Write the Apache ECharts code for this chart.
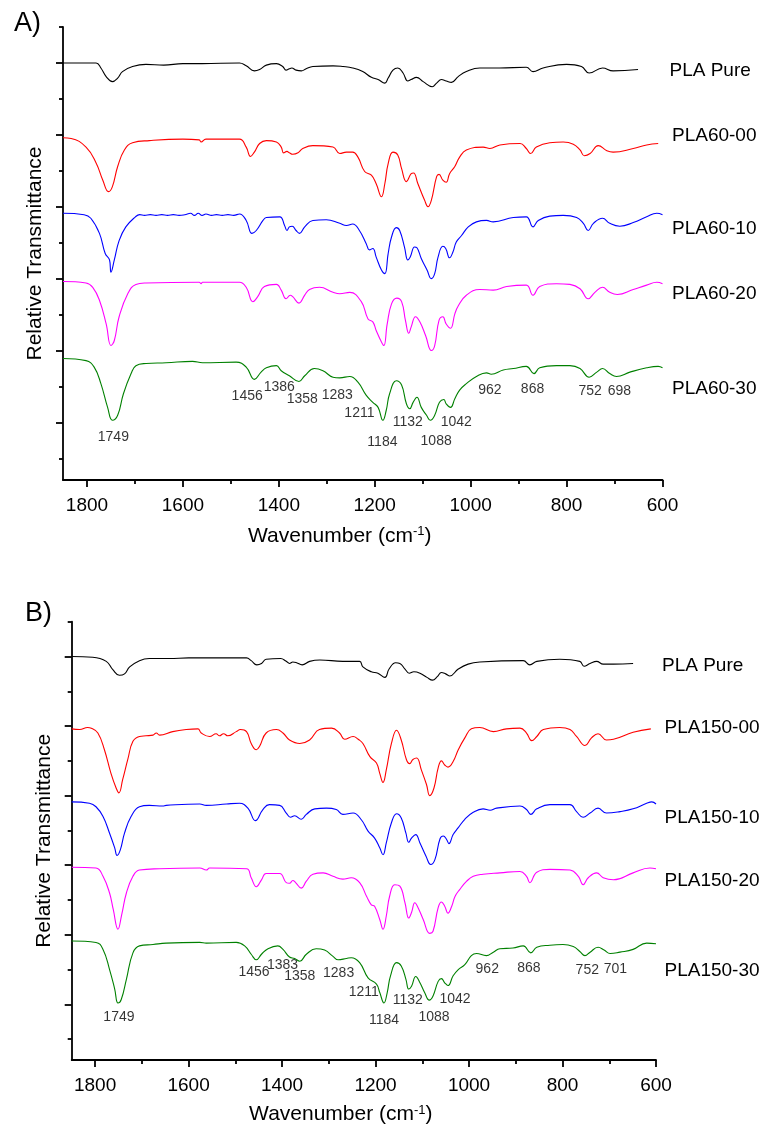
<!DOCTYPE html>
<html>
<head>
<meta charset="utf-8">
<script src="https://cdn.jsdelivr.net/npm/echarts@6/dist/echarts.min.js"></script>
<style>
  html, body { margin: 0; padding: 0; background: #fff; }
  #main { width: 762px; height: 1124px; }
</style>
</head>
<body>
<div id="main"></div>
<script>
// spectra as [wavenumber (cm-1), relative transmittance, offset per trace]
// panel A
var pureA = [[1850,5.00],[1781,5.00],[1771,4.93],[1760,4.81],[1747,4.74],[1736,4.79],[1726,4.88],[1705,4.95],[1677,4.98],[1640,4.97],[1600,4.99],[1560,4.99],[1482,5.00],[1468,4.96],[1451,4.89],[1440,4.91],[1426,4.97],[1405,4.99],[1392,4.95],[1385,4.90],[1378,4.92],[1373,4.93],[1364,4.90],[1353,4.89],[1343,4.92],[1329,4.95],[1287,4.96],[1266,4.95],[1246,4.93],[1225,4.88],[1207,4.80],[1193,4.77],[1179,4.72],[1172,4.79],[1162,4.90],[1152,4.93],[1141,4.86],[1131,4.75],[1124,4.77],[1113,4.80],[1099,4.74],[1080,4.67],[1071,4.72],[1061,4.77],[1051,4.75],[1040,4.73],[1026,4.81],[1009,4.88],[981,4.93],[940,4.93],[884,4.94],[870,4.88],[849,4.93],[800,4.98],[769,4.95],[753,4.86],[725,4.93],[703,4.89],[651,4.91]];
var pla60_00 = [[1850,3.96],[1833,3.95],[1802,3.83],[1781,3.61],[1767,3.37],[1755,3.21],[1747,3.28],[1736,3.56],[1722,3.79],[1705,3.89],[1670,3.92],[1600,3.94],[1566,3.93],[1562,3.90],[1552,3.94],[1482,3.94],[1468,3.83],[1459,3.70],[1451,3.76],[1440,3.88],[1426,3.92],[1405,3.90],[1395,3.83],[1390,3.75],[1383,3.77],[1378,3.75],[1371,3.73],[1360,3.75],[1350,3.81],[1329,3.85],[1287,3.83],[1273,3.74],[1259,3.76],[1246,3.76],[1235,3.69],[1221,3.49],[1207,3.44],[1197,3.32],[1186,3.14],[1179,3.32],[1172,3.60],[1162,3.76],[1152,3.72],[1144,3.53],[1134,3.35],[1124,3.46],[1119,3.47],[1110,3.32],[1096,3.09],[1089,3.00],[1082,3.09],[1071,3.42],[1066,3.45],[1058,3.37],[1051,3.34],[1044,3.46],[1033,3.56],[1023,3.69],[1009,3.79],[974,3.83],[960,3.81],[939,3.86],[897,3.88],[884,3.81],[875,3.74],[863,3.83],[835,3.89],[807,3.90],[786,3.87],[772,3.79],[763,3.71],[751,3.74],[734,3.85],[716,3.78],[703,3.76],[661,3.81],[633,3.86],[609,3.88]];
var pla60_10 = [[1850,2.91],[1806,2.89],[1792,2.84],[1774,2.63],[1762,2.35],[1753,2.26],[1750,2.09],[1743,2.26],[1733,2.53],[1719,2.72],[1699,2.86],[1690,2.89],[1680,2.88],[1668,2.89],[1656,2.88],[1644,2.89],[1632,2.88],[1620,2.89],[1608,2.88],[1596,2.89],[1584,2.91],[1576,2.88],[1568,2.91],[1560,2.88],[1552,2.90],[1540,2.88],[1530,2.89],[1518,2.88],[1506,2.89],[1494,2.88],[1482,2.90],[1468,2.81],[1456,2.63],[1447,2.67],[1433,2.81],[1426,2.85],[1398,2.86],[1388,2.74],[1383,2.67],[1378,2.72],[1372,2.73],[1364,2.67],[1357,2.63],[1346,2.72],[1329,2.81],[1301,2.82],[1273,2.77],[1259,2.74],[1246,2.76],[1232,2.67],[1218,2.49],[1211,2.40],[1204,2.42],[1197,2.30],[1186,2.12],[1179,2.07],[1172,2.35],[1165,2.58],[1155,2.71],[1148,2.67],[1138,2.44],[1131,2.26],[1126,2.30],[1117,2.44],[1112,2.43],[1103,2.28],[1091,2.12],[1082,2.00],[1075,2.07],[1068,2.30],[1058,2.45],[1052,2.42],[1044,2.29],[1037,2.37],[1030,2.51],[1019,2.60],[1005,2.72],[988,2.79],[967,2.81],[953,2.79],[911,2.85],[884,2.86],[870,2.72],[859,2.81],[835,2.87],[807,2.88],[779,2.85],[765,2.77],[755,2.67],[744,2.77],[725,2.84],[710,2.77],[689,2.73],[661,2.78],[633,2.86],[612,2.91],[600,2.89]];
var pla60_20 = [[1850,1.96],[1802,1.94],[1788,1.88],[1774,1.70],[1760,1.37],[1750,1.07],[1743,1.14],[1733,1.47],[1715,1.79],[1698,1.92],[1677,1.94],[1566,1.95],[1562,1.93],[1559,1.95],[1482,1.95],[1468,1.88],[1454,1.68],[1444,1.75],[1430,1.89],[1405,1.92],[1395,1.84],[1385,1.72],[1376,1.77],[1371,1.75],[1358,1.66],[1346,1.77],[1336,1.85],[1315,1.88],[1287,1.81],[1273,1.79],[1252,1.81],[1228,1.68],[1214,1.44],[1204,1.40],[1197,1.28],[1186,1.12],[1181,1.07],[1174,1.37],[1165,1.65],[1154,1.73],[1144,1.68],[1136,1.42],[1129,1.24],[1124,1.33],[1115,1.47],[1106,1.40],[1094,1.21],[1082,1.00],[1075,1.07],[1066,1.42],[1058,1.47],[1051,1.37],[1042,1.31],[1033,1.51],[1026,1.62],[1009,1.77],[981,1.85],[953,1.84],[925,1.89],[884,1.91],[870,1.77],[856,1.89],[821,1.93],[793,1.92],[772,1.86],[755,1.72],[741,1.81],[725,1.88],[710,1.81],[694,1.78],[661,1.85],[633,1.91],[612,1.95],[600,1.93]];
var pla60_30 = [[1850,0.89],[1802,0.86],[1785,0.77],[1771,0.54],[1757,0.21],[1747,0.03],[1736,0.10],[1724,0.40],[1708,0.68],[1698,0.79],[1677,0.82],[1635,0.83],[1580,0.85],[1559,0.83],[1489,0.84],[1468,0.77],[1451,0.60],[1437,0.70],[1426,0.76],[1405,0.79],[1395,0.72],[1378,0.65],[1358,0.57],[1346,0.65],[1326,0.75],[1308,0.72],[1287,0.63],[1273,0.62],[1252,0.64],[1235,0.56],[1218,0.38],[1204,0.28],[1193,0.21],[1183,0.03],[1176,0.17],[1169,0.40],[1155,0.58],[1144,0.52],[1134,0.26],[1127,0.19],[1120,0.28],[1112,0.35],[1103,0.21],[1092,0.10],[1084,0.03],[1075,0.10],[1065,0.28],[1056,0.32],[1051,0.26],[1042,0.21],[1033,0.33],[1023,0.45],[1009,0.54],[988,0.64],[967,0.69],[957,0.67],[932,0.73],[911,0.75],[884,0.78],[868,0.68],[856,0.76],[821,0.79],[793,0.79],[772,0.75],[753,0.63],[737,0.70],[725,0.75],[710,0.68],[696,0.64],[668,0.70],[633,0.76],[609,0.78],[600,0.76]];

// panel B
var pureB = [[1850,5.00],[1805,4.99],[1776,4.93],[1762,4.81],[1748,4.73],[1737,4.75],[1726,4.85],[1705,4.94],[1684,4.97],[1641,4.97],[1600,4.98],[1560,4.98],[1476,4.98],[1466,4.94],[1454,4.88],[1444,4.90],[1434,4.96],[1403,4.97],[1391,4.93],[1384,4.90],[1377,4.92],[1369,4.91],[1357,4.88],[1341,4.93],[1319,4.95],[1270,4.93],[1234,4.93],[1227,4.85],[1209,4.78],[1195,4.76],[1180,4.70],[1171,4.82],[1157,4.91],[1148,4.90],[1137,4.82],[1128,4.76],[1118,4.78],[1105,4.76],[1090,4.70],[1078,4.66],[1068,4.71],[1059,4.77],[1050,4.75],[1041,4.72],[1023,4.82],[1002,4.89],[977,4.92],[884,4.94],[870,4.88],[855,4.93],[806,4.96],[763,4.93],[754,4.86],[741,4.90],[727,4.93],[713,4.89],[691,4.89],[649,4.90]];
var pla150_00 = [[1850,3.96],[1833,3.95],[1816,3.98],[1808,3.97],[1794,3.90],[1780,3.66],[1766,3.32],[1755,3.11],[1749,3.04],[1741,3.23],[1730,3.52],[1719,3.78],[1705,3.85],[1691,3.86],[1676,3.87],[1669,3.90],[1662,3.87],[1634,3.92],[1605,3.95],[1580,3.96],[1573,3.90],[1555,3.85],[1541,3.89],[1534,3.86],[1525,3.89],[1516,3.86],[1498,3.92],[1489,3.95],[1476,3.92],[1466,3.75],[1455,3.66],[1448,3.71],[1434,3.90],[1412,3.95],[1398,3.90],[1384,3.80],[1362,3.75],[1341,3.80],[1320,3.95],[1294,3.97],[1277,3.90],[1266,3.81],[1248,3.85],[1237,3.81],[1227,3.75],[1212,3.56],[1198,3.47],[1191,3.32],[1184,3.19],[1177,3.37],[1166,3.75],[1155,3.94],[1145,3.80],[1134,3.52],[1127,3.46],[1120,3.52],[1112,3.54],[1102,3.37],[1091,3.16],[1084,3.00],[1075,3.11],[1066,3.40],[1059,3.50],[1052,3.44],[1045,3.41],[1034,3.49],[1023,3.66],[1009,3.83],[995,3.96],[977,3.98],[948,3.92],[920,3.96],[891,3.97],[877,3.90],[866,3.79],[855,3.85],[841,3.95],[806,3.98],[784,3.95],[770,3.85],[752,3.72],[738,3.83],[724,3.89],[706,3.80],[691,3.81],[649,3.91],[611,3.96]];
var pla150_10 = [[1850,2.91],[1812,2.89],[1798,2.84],[1783,2.70],[1769,2.46],[1758,2.25],[1753,2.14],[1746,2.22],[1737,2.46],[1723,2.70],[1705,2.84],[1684,2.86],[1655,2.85],[1648,2.86],[1576,2.88],[1562,2.86],[1519,2.88],[1491,2.89],[1473,2.82],[1457,2.64],[1441,2.80],[1427,2.87],[1405,2.86],[1391,2.75],[1382,2.69],[1373,2.71],[1359,2.66],[1348,2.73],[1330,2.81],[1305,2.82],[1284,2.80],[1270,2.73],[1248,2.75],[1230,2.65],[1216,2.49],[1202,2.39],[1191,2.25],[1184,2.15],[1177,2.32],[1166,2.61],[1155,2.74],[1145,2.68],[1135,2.46],[1129,2.33],[1123,2.39],[1114,2.44],[1105,2.32],[1092,2.13],[1082,2.01],[1073,2.08],[1062,2.38],[1055,2.42],[1048,2.37],[1043,2.31],[1034,2.44],[1023,2.54],[1009,2.66],[991,2.76],[970,2.81],[955,2.79],[941,2.82],[891,2.85],[877,2.80],[868,2.73],[855,2.81],[827,2.87],[784,2.87],[770,2.77],[756,2.69],[741,2.75],[724,2.82],[706,2.75],[677,2.77],[649,2.81],[620,2.89],[609,2.91],[600,2.88]];
var pla150_20 = [[1850,1.97],[1798,1.96],[1783,1.84],[1769,1.60],[1761,1.36],[1751,1.08],[1743,1.29],[1733,1.60],[1719,1.84],[1705,1.93],[1662,1.95],[1576,1.96],[1562,1.93],[1555,1.96],[1476,1.95],[1466,1.82],[1455,1.69],[1444,1.79],[1434,1.88],[1405,1.88],[1391,1.75],[1384,1.74],[1377,1.78],[1371,1.75],[1359,1.67],[1348,1.77],[1334,1.87],[1312,1.89],[1291,1.84],[1270,1.80],[1252,1.82],[1234,1.75],[1219,1.55],[1209,1.43],[1202,1.41],[1191,1.22],[1184,1.08],[1177,1.27],[1170,1.55],[1159,1.72],[1148,1.70],[1137,1.46],[1129,1.24],[1123,1.32],[1116,1.46],[1109,1.39],[1098,1.22],[1084,1.02],[1077,1.05],[1066,1.39],[1059,1.47],[1052,1.41],[1045,1.31],[1037,1.41],[1030,1.55],[1020,1.65],[1005,1.77],[991,1.84],[970,1.87],[934,1.89],[891,1.91],[877,1.84],[870,1.75],[855,1.90],[827,1.94],[784,1.93],[766,1.84],[756,1.72],[745,1.82],[727,1.89],[713,1.82],[691,1.79],[649,1.89],[613,1.96],[600,1.95]];
var pla150_30 = [[1850,0.91],[1798,0.89],[1783,0.79],[1769,0.50],[1758,0.22],[1751,0.02],[1744,0.07],[1733,0.36],[1719,0.74],[1705,0.84],[1676,0.86],[1648,0.88],[1576,0.89],[1562,0.88],[1498,0.89],[1480,0.84],[1466,0.72],[1455,0.64],[1444,0.72],[1430,0.80],[1409,0.84],[1398,0.79],[1384,0.68],[1373,0.66],[1362,0.62],[1348,0.72],[1327,0.80],[1309,0.78],[1291,0.69],[1280,0.64],[1262,0.66],[1252,0.67],[1234,0.60],[1216,0.38],[1198,0.29],[1191,0.17],[1182,0.02],[1175,0.17],[1168,0.41],[1155,0.60],[1145,0.55],[1135,0.36],[1129,0.22],[1123,0.26],[1114,0.40],[1105,0.31],[1095,0.17],[1085,0.06],[1077,0.12],[1066,0.33],[1059,0.37],[1052,0.31],[1045,0.27],[1034,0.41],[1023,0.50],[1009,0.57],[995,0.70],[984,0.73],[963,0.70],[948,0.75],[934,0.80],[906,0.81],[884,0.84],[868,0.74],[855,0.82],[827,0.85],[799,0.86],[777,0.83],[763,0.76],[752,0.70],[741,0.75],[724,0.82],[711,0.78],[698,0.73],[677,0.75],[649,0.79],[620,0.88],[600,0.87]];

// peak labels
var peakTextA = ['1749','1456','1386','1358','1283','1211','1184','1132','1088','1042','962','868','752','698'];
var peakWnA   = [1745, 1466, 1399, 1351, 1278, 1232, 1184, 1131, 1072, 1030, 960, 871, 751, 690];
var peakYA    = [-0.20, 0.36, 0.49, 0.32, 0.38, 0.13, -0.27, 0.00, -0.26, 0.00, 0.45, 0.47, 0.43, 0.43];
var peakTextB = ['1749','1456','1383','1358','1283','1211','1184','1132','1088','1042','962','868','752','701'];
var peakWnB   = [1749, 1460, 1399, 1362, 1279, 1225, 1182, 1131, 1075, 1030, 961, 872, 747, 687];
var peakYB    = [-0.19, 0.47, 0.57, 0.41, 0.45, 0.18, -0.22, 0.06, -0.19, 0.07, 0.51, 0.52, 0.49, 0.51];

var namesA = ['PLA Pure', 'PLA60-00', 'PLA60-10', 'PLA60-20', 'PLA60-30'];
var namesB = ['PLA Pure', 'PLA150-00', 'PLA150-10', 'PLA150-20', 'PLA150-30'];
var colors = ['#000000', '#ff0000', '#0000ff', '#ff00ff', '#008000'];

var FONT = '"Liberation Sans", Arial, sans-serif';
var X_MIN = 600, X_MAX = 1850, Y_MIN = -0.8, Y_MAX = 5.5;

var panels = [
  { box: { left: 63, top: 27, width: 599.5, height: 453 }, xGap: 45, yGap: 17,
    tag: 'A)', tagPos: [14, 10],
    traces: [pureA, pla60_00, pla60_10, pla60_20, pla60_30], names: namesA,
    namePos: [[669.5, 70.8], [672, 135.7], [672, 229], [672, 294], [672, 389]],
    peaks: [peakWnA, peakYA, peakTextA] },
  { box: { left: 71.7, top: 621.7, width: 584.3, height: 438.3 }, xGap: 43.5, yGap: 17,
    tag: 'B)', tagPos: [25, 600],
    traces: [pureB, pla150_00, pla150_10, pla150_20, pla150_30], names: namesB,
    namePos: [[662, 665.5], [664.5, 727.8], [664.5, 817.5], [664.5, 880.8], [664.5, 970.8]],
    peaks: [peakWnB, peakYB, peakTextB] }
];

var grids = [], xAxes = [], yAxes = [], series = [], graphics = [], titles = [];
var tickStyle = { color: '#000', width: 1.8 };

panels.forEach(function (p) {
  var b = p.box, g = grids.length;
  var pxX = b.width / (X_MAX - X_MIN), pxY = b.height / (Y_MAX - Y_MIN);

  // main plot + three helper grids that only carry tick marks
  grids.push({ left: b.left, top: b.top, width: b.width, height: b.height, outerBoundsMode: 'none' });
  grids.push({ left: b.left + (X_MAX - 1800) * pxX, top: b.top, width: 1200 * pxX, height: b.height, outerBoundsMode: 'none' });
  grids.push({ left: b.left, top: b.top + (Y_MAX - 5) * pxY, width: b.width, height: 5 * pxY, outerBoundsMode: 'none' });
  grids.push({ left: b.left, top: b.top + (Y_MAX - 5.5) * pxY, width: b.width, height: 6 * pxY, outerBoundsMode: 'none' });

  xAxes.push({
    type: 'value', gridIndex: g, min: X_MIN, max: X_MAX, inverse: true,
    axisLine: { onZero: false, lineStyle: tickStyle },
    axisTick: { show: false }, axisLabel: { show: false }, splitLine: { show: false },
    name: '{a|Wavenumber (cm}{s|-1}{a|)}', nameLocation: 'middle', nameGap: p.xGap,
    nameTextStyle: {
      padding: [0, 46, 0, 0],
      rich: {
        a: { fontSize: 21, fontFamily: FONT, color: '#000', lineHeight: 22 },
        s: { fontSize: 13, fontFamily: FONT, color: '#000', verticalAlign: 'top', lineHeight: 13 }
      }
    }
  });
  yAxes.push({
    type: 'value', gridIndex: g, min: Y_MIN, max: Y_MAX,
    axisLine: { show: true, onZero: false, lineStyle: tickStyle },
    axisTick: { show: false }, axisLabel: { show: false }, splitLine: { show: false },
    name: 'Relative Transmittance', nameLocation: 'middle', nameGap: p.yGap,
    nameTextStyle: { fontSize: 21, fontFamily: FONT, color: '#000' }
  });

  // x ticks and labels
  xAxes.push({
    type: 'value', gridIndex: g + 1, min: 600, max: 1800, interval: 200, inverse: true,
    axisLine: { show: false, onZero: false },
    axisTick: { show: true, length: 7, lineStyle: tickStyle },
    minorTick: { show: true, splitNumber: 2, length: 4, lineStyle: tickStyle },
    axisLabel: { fontSize: 19, fontFamily: FONT, color: '#000', margin: 16,
                 formatter: function (v) { return String(v); } },
    splitLine: { show: false }, minorSplitLine: { show: false }
  });
  yAxes.push({ type: 'value', gridIndex: g + 1, show: false });

  // y major ticks
  xAxes.push({ type: 'value', gridIndex: g + 2, show: false });
  yAxes.push({
    type: 'value', gridIndex: g + 2, min: 0, max: 5, interval: 1,
    axisLine: { show: false, onZero: false },
    axisTick: { show: true, length: 7, lineStyle: tickStyle },
    axisLabel: { show: false }, splitLine: { show: false }
  });

  // y minor ticks
  xAxes.push({ type: 'value', gridIndex: g + 3, show: false });
  yAxes.push({
    type: 'value', gridIndex: g + 3, min: 0, max: 6, interval: 1,
    axisLine: { show: false, onZero: false },
    axisTick: { show: true, length: 4, lineStyle: tickStyle },
    axisLabel: { show: false }, splitLine: { show: false }
  });

  p.traces.forEach(function (d, i) {
    series.push({
      type: 'line', name: p.names[i], xAxisIndex: g, yAxisIndex: g,
      data: d, showSymbol: false, smooth: 0.45, silent: true,
      lineStyle: { color: colors[i], width: 1.1 }, itemStyle: { color: colors[i] }
    });
    graphics.push({
      type: 'text', x: p.namePos[i][0], y: p.namePos[i][1], silent: true,
      style: { text: p.names[i], fill: '#000', fontSize: 19, fontFamily: FONT, verticalAlign: 'middle', align: 'left' }
    });
  });

  var pk = p.peaks;
  series.push({
    type: 'scatter', xAxisIndex: g, yAxisIndex: g, symbolSize: 0, silent: true,
    data: pk[0].map(function (w, i) { return { value: [w, pk[1][i]], name: pk[2][i] }; }),
    label: { show: true, position: 'inside', formatter: '{b}', color: '#000', fontSize: 14, fontFamily: FONT }
  });

  titles.push({
    text: p.tag, left: p.tagPos[0], top: p.tagPos[1], padding: 0,
    textStyle: { fontSize: 27, fontWeight: 'normal', fontFamily: FONT, color: '#000' }
  });
});

var chart = echarts.init(document.getElementById('main'));
chart.setOption({
  animation: false,
  backgroundColor: '#fff',
  title: titles,
  grid: grids,
  xAxis: xAxes,
  yAxis: yAxes,
  series: series,
  graphic: graphics
});
</script>
</body>
</html>
